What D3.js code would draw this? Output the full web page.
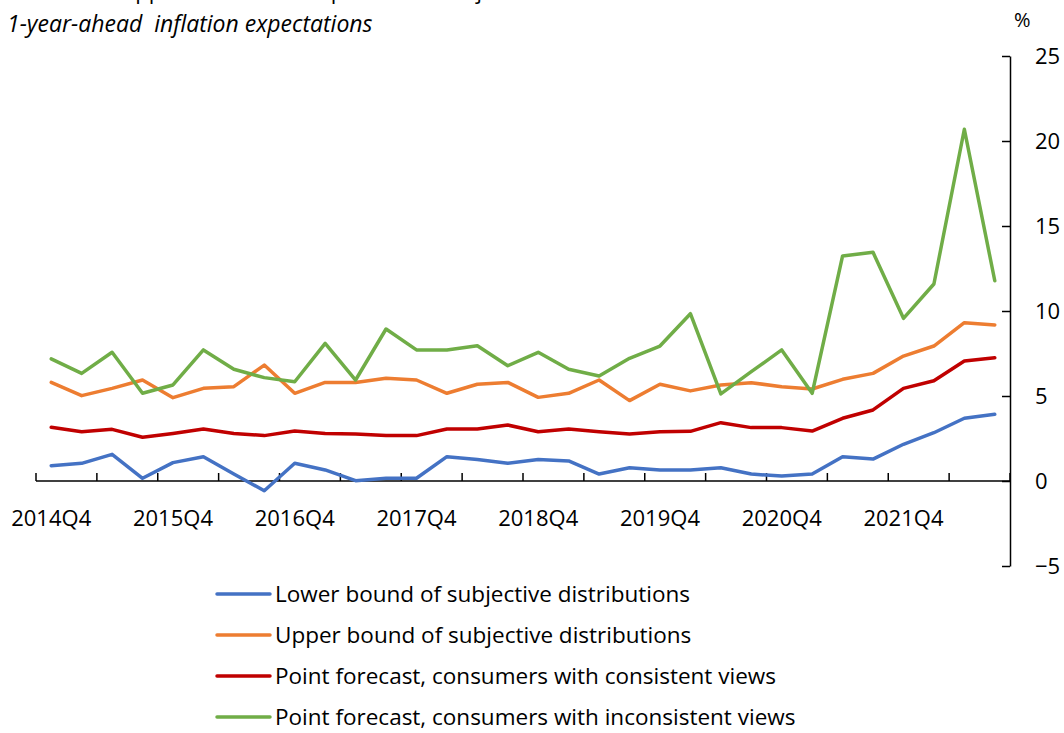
<!DOCTYPE html>
<html>
<head>
<meta charset="utf-8">
<script src="https://cdn.jsdelivr.net/npm/d3@7"></script>
<style>
  body { margin: 0; background: #fff; }
  svg { display: block; font-family: "Open Sans", "Noto Sans", sans-serif; }
</style>
</head>
<body>
<div id="chart"></div>
<script>
// quarters 2014Q4 .. 2022Q3
var quarters = [];
for (var yr = 2014; yr <= 2022; yr++) {
  for (var q = 1; q <= 4; q++) {
    if ((yr == 2014 && q < 4) || (yr == 2022 && q > 3)) continue;
    quarters.push(yr + "Q" + q);
  }
}
var tickLabels = ["2014Q4", "2015Q4", "2016Q4", "2017Q4", "2018Q4", "2019Q4", "2020Q4", "2021Q4"];
var yTicks = [-5, 0, 5, 10, 15, 20, 25];

var lowerBound = [0.90, 1.04, 1.57, 0.16, 1.08, 1.43, 0.41, -0.57, 1.04, 0.65, 0.02, 0.16, 0.16, 1.43, 1.27, 1.04,
  1.27, 1.18, 0.41, 0.78, 0.65, 0.65, 0.78, 0.41, 0.29, 0.41, 1.43, 1.29, 2.16, 2.84, 3.69, 3.92];
var upperBound = [5.80, 5.02, 5.45, 5.94, 4.90, 5.45, 5.55, 6.82, 5.16, 5.80, 5.80, 6.04, 5.94, 5.16, 5.69, 5.80,
  4.92, 5.16, 5.94, 4.73, 5.69, 5.30, 5.65, 5.78, 5.55, 5.41, 5.98, 6.33, 7.35, 7.94, 9.31, 9.18];
var consistent = [3.16, 2.90, 3.04, 2.57, 2.80, 3.06, 2.80, 2.67, 2.94, 2.80, 2.76, 2.67, 2.67, 3.06, 3.06, 3.29,
  2.90, 3.06, 2.90, 2.76, 2.90, 2.92, 3.43, 3.14, 3.14, 2.94, 3.69, 4.18, 5.45, 5.90, 7.06, 7.25];
var inconsistent = [7.18, 6.33, 7.57, 5.16, 5.65, 7.71, 6.57, 6.08, 5.84, 8.10, 5.94, 8.94, 7.71, 7.71, 7.96, 6.78,
  7.57, 6.57, 6.18, 7.22, 7.94, 9.84, 5.12, 6.43, 7.71, 5.16, 13.24, 13.45, 9.57, 11.59, 20.69, 11.78];

var seriesNames = ["Lower bound of subjective distributions", "Upper bound of subjective distributions",
  "Point forecast, consumers with consistent views", "Point forecast, consumers with inconsistent views"];
var seriesColors = ["#4472C4", "#ED7D31", "#C00000", "#70AD47"];
var seriesData = [lowerBound, upperBound, consistent, inconsistent];

var width = 1064, height = 733;

var svg = d3.select("#chart").append("svg")
  .attr("width", width)
  .attr("height", height);

var x = d3.scaleBand()
  .domain(quarters)
  .range([36, 1010])
  .padding(0);

var y = d3.scaleLinear()
  .domain([-5, 25])
  .range([566, 56]);

function cx(d) { return x(d) + x.bandwidth() / 2; }

// title (cut off at top in the source) and subtitle
svg.append("text")
  .attr("x", 8)
  .attr("y", -1)
  .style("font-size", "22px")
  .attr("fill", "#000")
  .text("Lower and upper bounds of respondents' subjective distributions");

svg.append("text")
  .attr("x", 7)
  .attr("y", 32)
  .style("font-size", "23px")
  .style("font-style", "italic")
  .style("white-space", "pre")
  .attr("fill", "#000")
  .text("1-year-ahead  inflation expectations");

svg.append("text")
  .attr("x", 1014)
  .attr("y", 27)
  .style("font-size", "20px")
  .attr("fill", "#000")
  .text("%");

// x axis at zero
var xAxis = svg.append("g");
xAxis.append("line")
  .attr("x1", 36).attr("x2", 1010)
  .attr("y1", y(0)).attr("y2", y(0))
  .attr("stroke", "#000").attr("stroke-width", 1.5);

var tickIdx = d3.range(0, quarters.length + 1, 2);
xAxis.selectAll(".xtick")
  .data(tickIdx)
  .enter().append("line")
  .attr("class", "xtick")
  .attr("x1", function (i) { return 36 + i * x.step(); })
  .attr("x2", function (i) { return 36 + i * x.step(); })
  .attr("y1", y(0)).attr("y2", y(0) - 8)
  .attr("stroke", "#000").attr("stroke-width", 1.5);

xAxis.selectAll(".xlabel")
  .data(tickLabels)
  .enter().append("text")
  .attr("class", "xlabel")
  .attr("x", function (d) { return cx(d); })
  .attr("y", 526)
  .attr("text-anchor", "middle")
  .style("font-size", "22px")
  .attr("fill", "#000")
  .text(function (d) { return d; });

// right y axis
var yAxis = d3.axisRight(y)
  .tickValues(yTicks)
  .tickSize(0)
  .tickPadding(25);

var yg = svg.append("g")
  .attr("transform", "translate(1010,0)")
  .call(yAxis);
yg.select(".domain").attr("stroke", "#000").attr("stroke-width", 1.5);
yg.selectAll("text").style("font-size", "22px").style("font-family", "'Open Sans', sans-serif").attr("fill", "#000");
yg.selectAll(".tick").append("line")
  .attr("x1", -8).attr("x2", 0)
  .attr("stroke", "#000").attr("stroke-width", 1.5);

// lines
var line = d3.line()
  .x(function (d, i) { return cx(quarters[i]); })
  .y(function (d) { return y(d); });

svg.selectAll(".series")
  .data(seriesData)
  .enter().append("path")
  .attr("class", "series")
  .attr("d", function (d) { return line(d); })
  .attr("fill", "none")
  .attr("stroke", function (d, i) { return seriesColors[i]; })
  .attr("stroke-width", 3.5)
  .attr("stroke-linejoin", "round")
  .attr("stroke-linecap", "round");

// legend
var legend = svg.selectAll(".legend")
  .data(seriesNames)
  .enter().append("g")
  .attr("class", "legend")
  .attr("transform", function (d, i) { return "translate(0," + (594 + i * 41) + ")"; });

legend.append("line")
  .attr("x1", 217).attr("x2", 270)
  .attr("y1", 0).attr("y2", 0)
  .attr("stroke", function (d, i) { return seriesColors[i]; })
  .attr("stroke-width", 3.5)
  .attr("stroke-linecap", "round");

legend.append("text")
  .attr("x", 275)
  .attr("y", 8)
  .style("font-size", "22.5px")
  .attr("fill", "#000")
  .text(function (d) { return d; });
</script>
</body>
</html>
